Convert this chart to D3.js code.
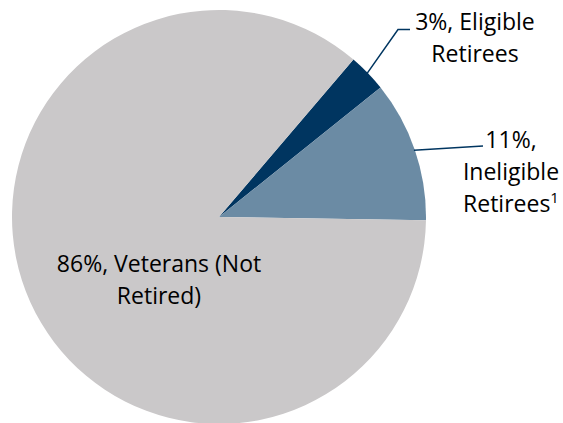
<!DOCTYPE html>
<html><head><meta charset="utf-8">
<script src="https://cdn.jsdelivr.net/npm/d3@7"></script>
<style>
html,body{margin:0;padding:0;background:#fff;}
svg{display:block;}
text{font-family:"Open Sans", Lato, "Liberation Sans", sans-serif;fill:#000;}
</style></head>
<body>
<script>
const categories = ["Eligible Retirees", "Ineligible Retirees", "Veterans (Not Retired)"];
const values = [3, 11, 86];
const labelLines = [["3%, Eligible", "Retirees"], ["11%,", "Ineligible", "Retirees"], ["86%, Veterans (Not", "Retired)"]];
const colors = ["#003560", "#6B8BA4", "#CAC8C9"];

const W = 563, H = 423;
const cx = 219, cy = 217, R = 207;
const svg = d3.select("body").append("svg").attr("width", W).attr("height", H);
const g = svg.append("g").attr("transform", `translate(${cx},${cy})`);

const deg = Math.PI / 180;
const pie = d3.pie().sort(null).value(d => d).startAngle(40.5 * deg).endAngle(400.5 * deg);
const arcs = pie(values);
const arc = d3.arc().innerRadius(0).outerRadius(R);

g.selectAll("path.slice").data(arcs).enter().append("path")
  .attr("class", "slice")
  .attr("d", arc)
  .attr("fill", (d, i) => colors[i]);

// leader lines
function edgePoint(d, r) {
  const a = (d.startAngle + d.endAngle) / 2;
  return [cx + r * Math.sin(a), cy - r * Math.cos(a)];
}
const lineColor = "#003560";
const p0 = edgePoint(arcs[0], R - 1);
svg.append("polyline")
  .attr("points", [p0, [398, 29.5], [410, 29.5]].map(p => p.join(",")).join(" "))
  .attr("fill", "none").attr("stroke", lineColor).attr("stroke-width", 1.5);
const p1 = edgePoint(arcs[1], R - 1);
svg.append("polyline")
  .attr("points", [p1, [483, 146]].map(p => p.join(",")).join(" "))
  .attr("fill", "none").attr("stroke", lineColor).attr("stroke-width", 1.5);

const fs = 23;
const lh = 32.3;
function label(lines, x, y0, sup) {
  const t = svg.append("text").attr("text-anchor", "middle").attr("font-size", fs);
  lines.forEach((s, i) => {
    const ts = t.append("tspan").attr("x", x).attr("y", y0 + i * lh).text(s);
    if (sup && i === lines.length - 1) {
      ts.append("tspan").attr("font-size", 15).attr("dy", -9).text("1");
    }
  });
}
label(labelLines[0], 475, 30);
label(labelLines[1], 511, 147.7, true);
label(labelLines[2], 159, 271.7);
</script>
</body></html>
